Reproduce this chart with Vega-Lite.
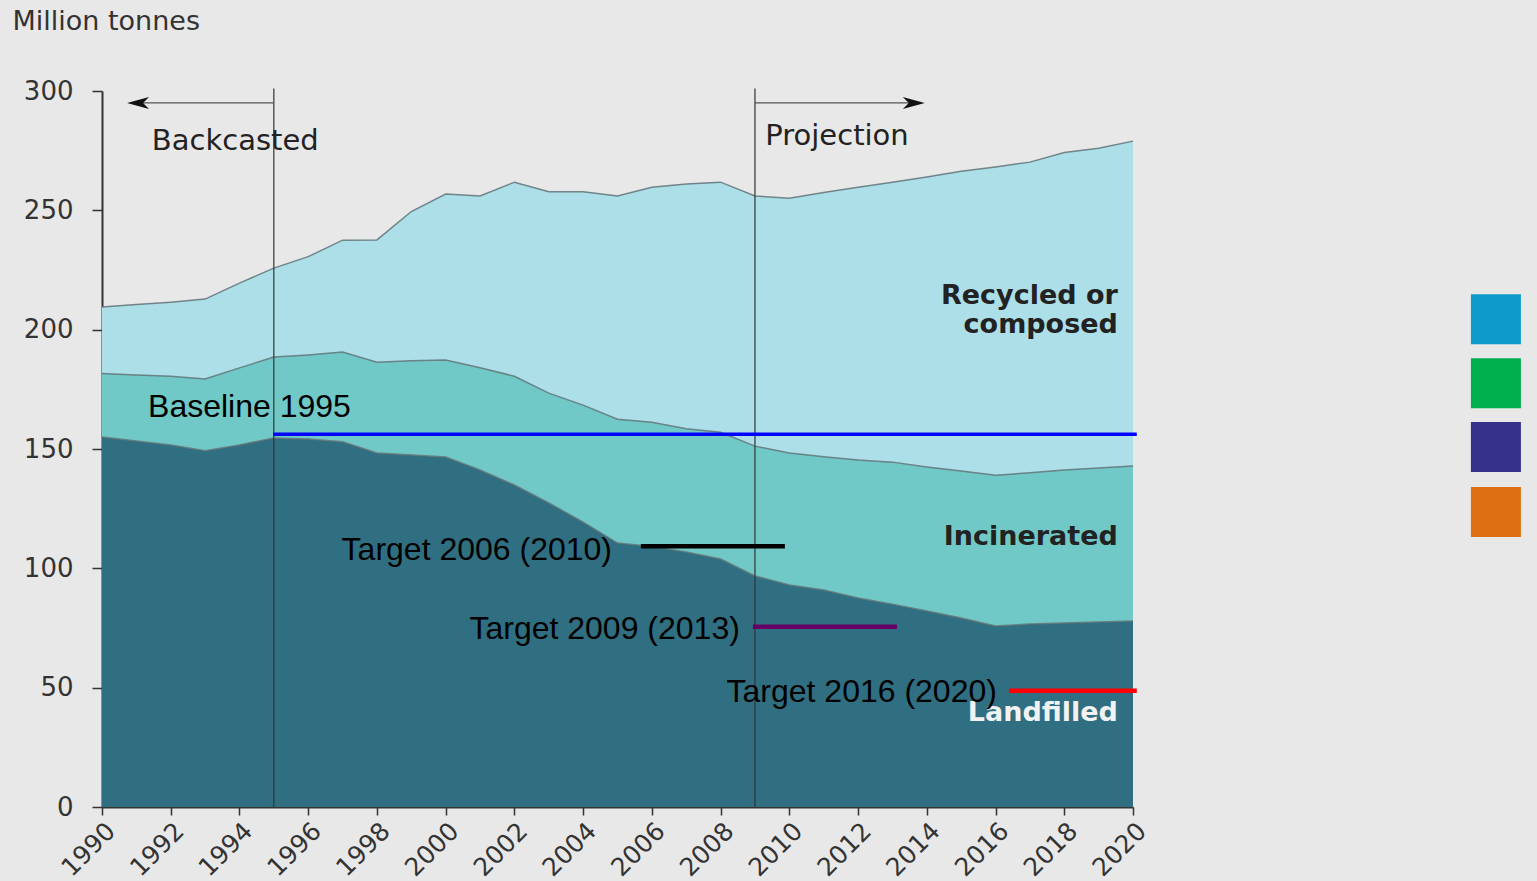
{
  "$schema": "https://vega.github.io/schema/vega-lite/v6.json",
  "width": 1031,
  "height": 716,
  "autosize": {"type": "none"},
  "padding": {"left": 102, "top": 91, "right": 404, "bottom": 74},
  "background": "#e8e8e8",
  "config": {"view": {"stroke": null}},
  "layer": [
    {
      "data": {"values": [
        {"year": 1990, "Landfilled": 155.0, "Incinerated": 26.6, "Recycled or composed": 27.9},
        {"year": 1991, "Landfilled": 153.4, "Incinerated": 27.6, "Recycled or composed": 29.5},
        {"year": 1992, "Landfilled": 151.7, "Incinerated": 28.8, "Recycled or composed": 31.0},
        {"year": 1993, "Landfilled": 149.3, "Incinerated": 30.0, "Recycled or composed": 33.5},
        {"year": 1994, "Landfilled": 151.7, "Incinerated": 32.3, "Recycled or composed": 35.5},
        {"year": 1995, "Landfilled": 154.6, "Incinerated": 33.9, "Recycled or composed": 37.3},
        {"year": 1996, "Landfilled": 154.2, "Incinerated": 35.2, "Recycled or composed": 41.2},
        {"year": 1997, "Landfilled": 153.0, "Incinerated": 37.6, "Recycled or composed": 46.9},
        {"year": 1998, "Landfilled": 148.3, "Incinerated": 38.1, "Recycled or composed": 51.2},
        {"year": 1999, "Landfilled": 147.5, "Incinerated": 39.5, "Recycled or composed": 62.5},
        {"year": 2000, "Landfilled": 146.6, "Incinerated": 40.7, "Recycled or composed": 69.5},
        {"year": 2001, "Landfilled": 141.2, "Incinerated": 42.8, "Recycled or composed": 72.0},
        {"year": 2002, "Landfilled": 134.9, "Incinerated": 45.6, "Recycled or composed": 81.3},
        {"year": 2003, "Landfilled": 127.4, "Incinerated": 46.0, "Recycled or composed": 84.4},
        {"year": 2004, "Landfilled": 119.4, "Incinerated": 49.0, "Recycled or composed": 89.4},
        {"year": 2005, "Landfilled": 110.6, "Incinerated": 51.9, "Recycled or composed": 93.5},
        {"year": 2006, "Landfilled": 109.2, "Incinerated": 52.0, "Recycled or composed": 98.5},
        {"year": 2007, "Landfilled": 106.8, "Incinerated": 51.7, "Recycled or composed": 102.5},
        {"year": 2008, "Landfilled": 103.9, "Incinerated": 53.1, "Recycled or composed": 104.8},
        {"year": 2009, "Landfilled": 96.8, "Incinerated": 54.4, "Recycled or composed": 104.8},
        {"year": 2010, "Landfilled": 93.0, "Incinerated": 55.3, "Recycled or composed": 106.8},
        {"year": 2011, "Landfilled": 90.9, "Incinerated": 55.9, "Recycled or composed": 110.7},
        {"year": 2012, "Landfilled": 87.6, "Incinerated": 57.8, "Recycled or composed": 114.3},
        {"year": 2013, "Landfilled": 85.0, "Incinerated": 59.5, "Recycled or composed": 117.3},
        {"year": 2014, "Landfilled": 82.1, "Incinerated": 60.4, "Recycled or composed": 121.5},
        {"year": 2015, "Landfilled": 79.2, "Incinerated": 61.6, "Recycled or composed": 125.6},
        {"year": 2016, "Landfilled": 75.8, "Incinerated": 63.2, "Recycled or composed": 129.2},
        {"year": 2017, "Landfilled": 76.7, "Incinerated": 63.3, "Recycled or composed": 130.2},
        {"year": 2018, "Landfilled": 77.1, "Incinerated": 64.1, "Recycled or composed": 133.0},
        {"year": 2019, "Landfilled": 77.5, "Incinerated": 64.5, "Recycled or composed": 134.0},
        {"year": 2020, "Landfilled": 77.9, "Incinerated": 65.0, "Recycled or composed": 136.1}
      ]},
      "transform": [
        {"fold": ["Landfilled", "Incinerated", "Recycled or composed"], "as": ["category", "amount"]},
        {"calculate": "datum.category === 'Landfilled' ? 0 : (datum.category === 'Incinerated' ? 1 : 2)", "as": "ord"},
        {"stack": "amount", "groupby": ["year"], "sort": [{"field": "ord", "order": "ascending"}], "as": ["lo", "hi"]}
      ],
      "layer": [
        {
          "mark": {"type": "area", "opacity": 1},
          "encoding": {
            "x": {
              "field": "year", "type": "quantitative",
              "scale": {"domain": [1990, 2020], "nice": false, "zero": false},
              "axis": {
                "title": null,
                "values": [1990,1991,1992,1993,1994,1995,1996,1997,1998,1999,2000,2001,2002,2003,2004,2005,2006,2007,2008,2009,2010,2011,2012,2013,2014,2015,2016,2017,2018,2019,2020],
                "format": "d",
                "labelExpr": "datum.value % 2 === 0 ? datum.label : ''",
                "labelOverlap": false,
                "labelAngle": -45,
                "labelAlign": "right",
                "labelBaseline": "top",
                "labelFont": "DejaVu Sans",
                "labelFontSize": 25,
                "labelColor": "#333333",
                "labelPadding": 3,
                "tickSize": 8,
                "tickColor": "#333333",
                "tickWidth": 1.5,
                "domainColor": "#333333",
                "domainWidth": 2,
                "grid": false
              }
            },
            "y": {
              "field": "hi", "type": "quantitative",
              "scale": {"domain": [0, 300], "nice": false},
              "axis": {
                "title": "Million tonnes",
                "titleAngle": 0,
                "titleAlign": "left",
                "titleBaseline": "alphabetic",
                "titleX": -90,
                "titleY": -62,
                "titleFont": "DejaVu Sans",
                "titleFontSize": 27,
                "titleFontWeight": "normal",
                "titleColor": "#333333",
                "values": [0, 50, 100, 150, 200, 250, 300],
                "labelFont": "DejaVu Sans",
                "labelFontSize": 26,
                "labelColor": "#333333",
                "labelPadding": 19,
                "tickSize": 10,
                "tickColor": "#333333",
                "tickWidth": 1.5,
                "domainColor": "#333333",
                "domainWidth": 2,
                "grid": false
              }
            },
            "y2": {"field": "lo"},
            "color": {
              "field": "category", "type": "nominal",
              "scale": {"domain": ["Landfilled", "Incinerated", "Recycled or composed"], "range": ["#306f81", "#70c9c6", "#addfe9"]},
              "legend": null
            }
          }
        },
        {
          "mark": {"type": "line", "stroke": "#5f7377", "strokeWidth": 1.5, "opacity": 0.85},
          "encoding": {
            "x": {"field": "year", "type": "quantitative"},
            "y": {"field": "hi", "type": "quantitative"},
            "detail": {"field": "category", "type": "nominal"}
          }
        }
      ]
    },
    {
      "data": {"values": [{"boundary": 1995}, {"boundary": 2009}]},
      "mark": {"type": "rule", "color": "#333333", "strokeWidth": 1.2},
      "encoding": {
        "x": {"field": "boundary", "type": "quantitative"},
        "y": {"datum": 0, "type": "quantitative"},
        "y2": {"datum": 301}
      }
    },
    {
      "data": {"values": [{"arrow": "Backcasted"}]},
      "mark": {"type": "rule", "color": "#555555", "strokeWidth": 1.2},
      "encoding": {
        "x": {"datum": 1990.9, "type": "quantitative"},
        "x2": {"datum": 1995},
        "y": {"datum": 295, "type": "quantitative"}
      }
    },
    {
      "data": {"values": [{"arrow": "Projection"}]},
      "mark": {"type": "rule", "color": "#555555", "strokeWidth": 1.2},
      "encoding": {
        "x": {"datum": 2009, "type": "quantitative"},
        "x2": {"datum": 2013.7},
        "y": {"datum": 295, "type": "quantitative"}
      }
    },
    {
      "data": {"values": [{"arrow": "Backcasted"}]},
      "mark": {"type": "point", "shape": "M -1 0 L 1 -0.55 L 0.45 0 L 1 0.55 Z", "filled": true, "color": "#111111", "size": 480, "opacity": 1},
      "encoding": {
        "x": {"datum": 1991.05, "type": "quantitative"},
        "y": {"datum": 295, "type": "quantitative"}
      }
    },
    {
      "data": {"values": [{"arrow": "Projection"}]},
      "mark": {"type": "point", "shape": "M 1 0 L -1 -0.55 L -0.45 0 L -1 0.55 Z", "filled": true, "color": "#111111", "size": 480, "opacity": 1},
      "encoding": {
        "x": {"datum": 2013.62, "type": "quantitative"},
        "y": {"datum": 295, "type": "quantitative"}
      }
    },
    {
      "data": {"values": [{"label": "Backcasted"}]},
      "mark": {"type": "text", "font": "DejaVu Sans", "fontSize": 29, "color": "#222222", "align": "left", "baseline": "alphabetic"},
      "encoding": {
        "text": {"field": "label"},
        "x": {"datum": 1991.45, "type": "quantitative"},
        "y": {"datum": 275.3, "type": "quantitative"}
      }
    },
    {
      "data": {"values": [{"label": "Projection"}]},
      "mark": {"type": "text", "font": "DejaVu Sans", "fontSize": 29, "color": "#222222", "align": "left", "baseline": "alphabetic"},
      "encoding": {
        "text": {"field": "label"},
        "x": {"datum": 2009.3, "type": "quantitative"},
        "y": {"datum": 277.3, "type": "quantitative"}
      }
    },
    {
      "data": {"values": [{"label": ["Recycled or", "composed"]}]},
      "mark": {"type": "text", "font": "DejaVu Sans", "fontSize": 27, "fontWeight": "bold", "color": "#222222", "align": "right", "baseline": "alphabetic", "lineHeight": 29},
      "encoding": {
        "text": {"field": "label"},
        "x": {"datum": 2019.56, "type": "quantitative"},
        "y": {"datum": 210.7, "type": "quantitative"}
      }
    },
    {
      "data": {"values": [{"label": "Incinerated"}]},
      "mark": {"type": "text", "font": "DejaVu Sans", "fontSize": 27, "fontWeight": "bold", "color": "#222222", "align": "right", "baseline": "alphabetic"},
      "encoding": {
        "text": {"field": "label"},
        "x": {"datum": 2019.56, "type": "quantitative"},
        "y": {"datum": 109.8, "type": "quantitative"}
      }
    },
    {
      "data": {"values": [{"label": "Landfilled"}]},
      "mark": {"type": "text", "font": "DejaVu Sans", "fontSize": 27, "fontWeight": "bold", "color": "#f2f2f2", "align": "right", "baseline": "alphabetic"},
      "encoding": {
        "text": {"field": "label"},
        "x": {"datum": 2019.56, "type": "quantitative"},
        "y": {"datum": 36, "type": "quantitative"}
      }
    },
    {
      "data": {"values": [{"target": "Baseline 1995", "tx": 1991.34, "ty": 163.4, "lx": 1994.98, "lx2": 2020.11, "ly": 156.2}]},
      "layer": [
        {
          "mark": {"type": "rule", "color": "#0000ff", "strokeWidth": 3.5},
          "encoding": {
            "x": {"field": "lx", "type": "quantitative"},
            "x2": {"field": "lx2"},
            "y": {"field": "ly", "type": "quantitative"}
          }
        },
        {
          "mark": {"type": "text", "font": "Liberation Sans", "fontSize": 32, "color": "#000000", "align": "left", "baseline": "alphabetic"},
          "encoding": {
            "text": {"field": "target"},
            "x": {"field": "tx", "type": "quantitative"},
            "y": {"field": "ty", "type": "quantitative"}
          }
        }
      ]
    },
    {
      "data": {"values": [
        {"target": "Target 2006 (2010)", "tx": 2004.84, "ty": 103.5, "lx": 2005.68, "lx2": 2009.87, "ly": 109.3},
        {"target": "Target 2009 (2013)", "tx": 2008.56, "ty": 70.5, "lx": 2008.94, "lx2": 2013.13, "ly": 75.5},
        {"target": "Target 2016 (2020)", "tx": 2016.04, "ty": 44, "lx": 2016.39, "lx2": 2020.11, "ly": 48.7}
      ]},
      "layer": [
        {
          "mark": {"type": "rule", "strokeWidth": 4.5},
          "encoding": {
            "x": {"field": "lx", "type": "quantitative"},
            "x2": {"field": "lx2"},
            "y": {"field": "ly", "type": "quantitative"},
            "stroke": {
              "field": "target", "type": "nominal",
              "scale": {"domain": ["Target 2006 (2010)", "Target 2009 (2013)", "Target 2016 (2020)"], "range": ["#000000", "#660066", "#ff0000"]},
              "legend": null
            }
          }
        },
        {
          "mark": {"type": "text", "font": "Liberation Sans", "fontSize": 32, "color": "#000000", "align": "right", "baseline": "alphabetic"},
          "encoding": {
            "text": {"field": "target"},
            "x": {"field": "tx", "type": "quantitative"},
            "y": {"field": "ty", "type": "quantitative"}
          }
        }
      ]
    },
    {
      "data": {"values": [
        {"tile": "blue", "year": 2030.56, "level": 204.4},
        {"tile": "green", "year": 2030.56, "level": 177.6},
        {"tile": "indigo", "year": 2030.56, "level": 150.8},
        {"tile": "orange", "year": 2030.56, "level": 123.6}
      ]},
      "mark": {"type": "point", "shape": "square", "filled": true, "size": 2500, "opacity": 1, "clip": false},
      "encoding": {
        "x": {"field": "year", "type": "quantitative"},
        "y": {"field": "level", "type": "quantitative"},
        "fill": {
          "field": "tile", "type": "nominal",
          "scale": {"domain": ["blue", "green", "indigo", "orange"], "range": ["#0e9bcc", "#00b04f", "#35318b", "#de6f12"]},
          "legend": null
        }
      }
    }
  ]
}
